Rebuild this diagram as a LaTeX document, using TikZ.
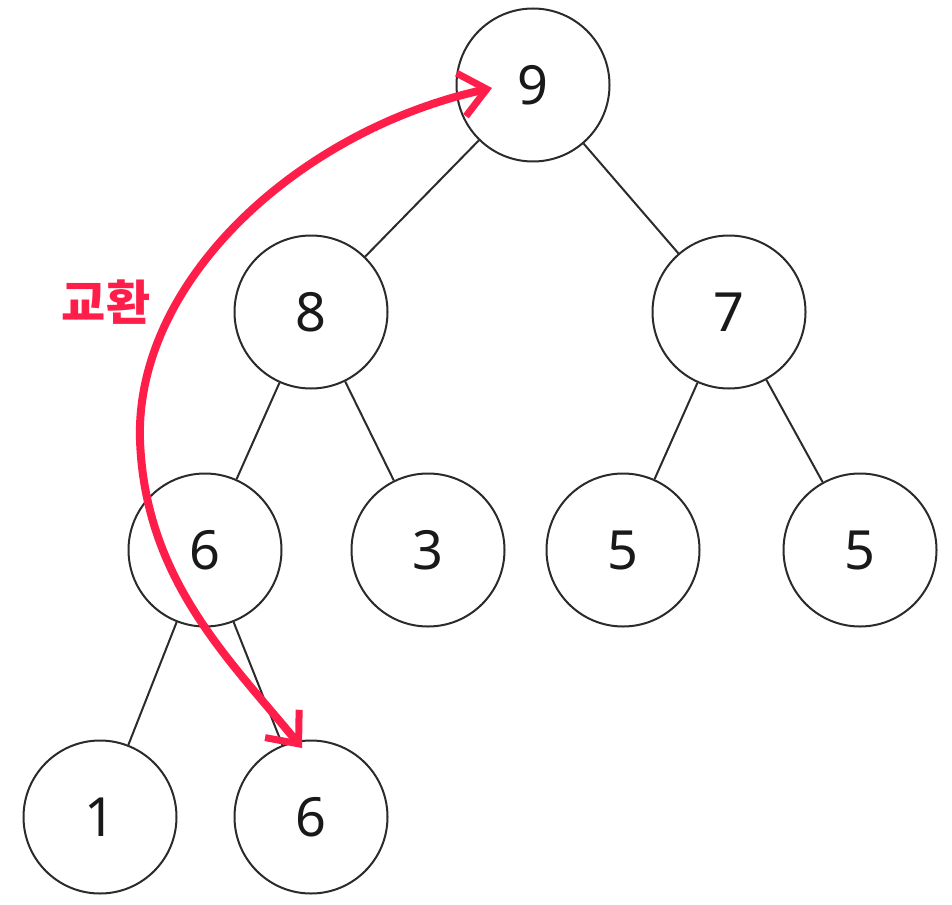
\documentclass[tikz,border=0pt]{standalone}
\usepackage{fontspec}
\setmainfont{Noto Sans}
\newfontfamily\korfont{Noto Sans CJK KR}
\usepackage{tikz}
\usetikzlibrary{arrows.meta}
\definecolor{swapred}{HTML}{FF1E4A}
\definecolor{edgegray}{HTML}{2B2B2B}

\begin{document}
\begin{tikzpicture}[
  x=1pt, y=-1pt,
  every node/.style={font=\fontsize{54}{60}\selectfont, text=black!90},
  heapnode/.style={
    circle, draw=edgegray, line width=2pt, fill=white,
    minimum size=153pt, inner sep=0pt,
  },
  link/.style={draw=edgegray, line width=2pt},
  swaparrow/.style={
    {Straight Barb[length=26pt,width=44pt,line width=7pt]}-{Straight Barb[length=26pt,width=44pt,line width=7pt]},
    draw=swapred, line width=8pt, line cap=round, line join=round,
  },
]
\useasboundingbox (0,0) rectangle (952,904);

% heap levels
\node[heapnode] (root) at (533,85)  {9};
\node[heapnode] (lft)  at (311,312) {8};
\node[heapnode] (rgt)  at (729,312) {7};
\node[heapnode] (ll)   at (205,550) {6};
\node[heapnode] (lr)   at (428,550) {3};
\node[heapnode] (rl)   at (623,550) {5};
\node[heapnode] (rr)   at (860,550) {5};
\node[heapnode] (lll)  at (100,817) {1};
\node[heapnode] (llr)  at (311,817) {6};

\draw[link] (root) -- (lft);
\draw[link] (root) -- (rgt);
\draw[link] (lft)  -- (ll);
\draw[link] (lft)  -- (lr);
\draw[link] (rgt)  -- (rl);
\draw[link] (rgt)  -- (rr);
\draw[link] (ll)   -- (lll);
\draw[link] (ll)   -- (llr);

% swap marker
\coordinate (swapA) at (492,88);
\coordinate (swapB) at (302,748);
\draw[swaparrow] (swapA) .. controls (300,130) and (135,280) .. (140,440)
                         .. controls (145,580) and (230,660) .. (swapB);
\node[font=\korfont\bfseries\fontsize{48}{52}\selectfont, text=swapred] (swaplbl) at (106,302) {교환};
\end{tikzpicture}
\end{document}
